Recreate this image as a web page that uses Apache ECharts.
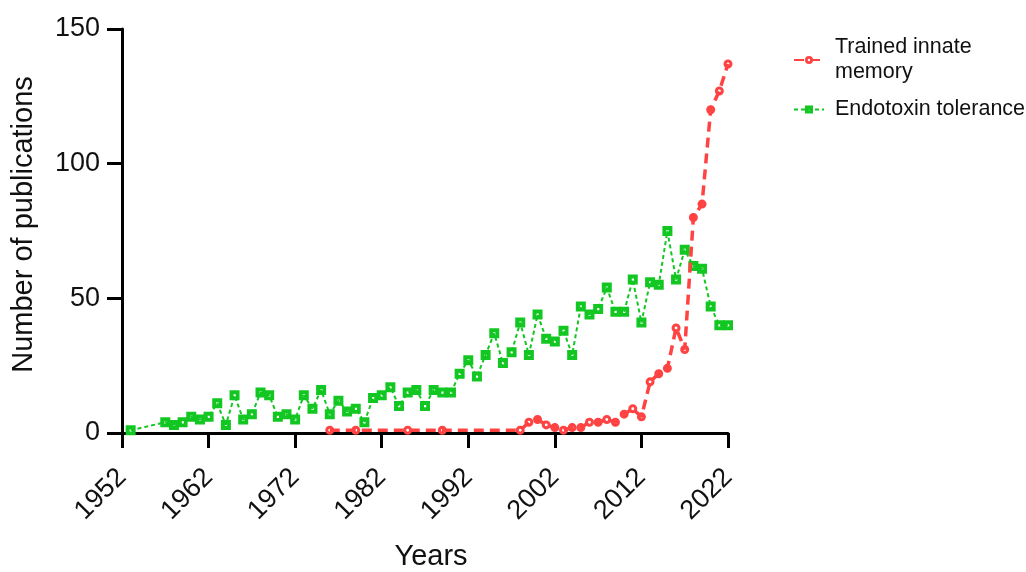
<!DOCTYPE html>
<html>
<head>
<meta charset="utf-8">
<script src="https://cdn.jsdelivr.net/npm/echarts@6/dist/echarts.min.js"></script>
<style>
  html, body { margin: 0; padding: 0; background: #fff; }
  #chart { width: 1026px; height: 572px; }
</style>
</head>
<body>
<div id="chart"></div>
<script>
// data
const tolYears = [1953,
  1957, 1958, 1959, 1960, 1961, 1962, 1963, 1964, 1965, 1966, 1967, 1968, 1969, 1970,
  1971, 1972, 1973, 1974, 1975, 1976, 1977, 1978, 1979, 1980, 1981, 1982, 1983, 1984,
  1985, 1986, 1987, 1988, 1989, 1990, 1991, 1992, 1993, 1994, 1995, 1996, 1997, 1998,
  1999, 2000, 2001, 2002, 2003, 2004, 2005, 2006, 2007, 2008, 2009, 2010, 2011, 2012,
  2013, 2014, 2015, 2016, 2017, 2018, 2019, 2020, 2021, 2022];
const tolCounts = [1,
  4, 3, 4, 6, 5, 6, 11, 3, 14, 5, 7, 15, 14, 6,
  7, 5, 14, 9, 16, 7, 12, 8, 9, 4, 13, 14, 17, 10,
  15, 16, 10, 16, 15, 15, 22, 27, 21, 29, 37, 26, 30, 41,
  29, 44, 35, 34, 38, 29, 47, 44, 46, 54, 45, 45, 57, 41,
  56, 55, 75, 57, 68, 62, 61, 47, 40, 40];

const timYears = [1976, 1979, 1985, 1989, 1998,
  1999, 2000, 2001, 2002, 2003, 2004, 2005, 2006, 2007, 2008, 2009, 2010,
  2011, 2012, 2013, 2014, 2015, 2016, 2017, 2018, 2019, 2020, 2021, 2022];
const timCounts = [1, 1, 1, 1, 1,
  4, 5, 3, 2, 1, 2, 2, 4, 4, 5, 4, 7,
  9, 6, 19, 22, 24, 39, 31, 80, 85, 120, 127, 137];

const seriesNames = ['Trained innate memory', 'Endotoxin tolerance'];
const legendLabels = { 'Trained innate memory': 'Trained innate\nmemory', 'Endotoxin tolerance': 'Endotoxin tolerance' };

const RED = '#ff4242';
const GREEN = '#12c722';
const FONT = '"Liberation Sans", Arial, sans-serif';

// filled markers with a small white hole in the middle (Prism style)
const RING = 'path://M5,0A5,5 0 1,1 5,10A5,5 0 1,1 5,0Z M5,3.4A1.6,1.6 0 1,0 5,6.6A1.6,1.6 0 1,0 5,3.4Z';
const HOLLOW_SQ = 'path://M0,0H10V10H0Z M4,4V6.2H6.2V4Z';

const zip = (xs, ys) => xs.map((x, i) => [x, ys[i]]);

const chart = echarts.init(document.getElementById('chart'), null, { renderer: 'canvas' });

const axisCommon = {
  axisLine: { show: true, lineStyle: { color: '#000', width: 3 } },
  axisTick: { show: true, inside: false, length: 15, lineStyle: { color: '#000', width: 3 } },
  splitLine: { show: false },
};

chart.setOption({
  backgroundColor: '#fff',
  animation: false,
  grid: { left: 122, top: 29, width: 606, height: 404, containLabel: false, outerBoundsMode: 'none' },
  legend: {
    left: 788,
    top: 30,
    orient: 'vertical',
    itemWidth: 30,
    itemHeight: 10,
    itemGap: 12,
    data: seriesNames,
    formatter: (name) => legendLabels[name],
    textStyle: { color: '#111', fontSize: 21.5, lineHeight: 25, fontFamily: FONT, padding: [0, 0, 0, 6] },
  },
  xAxis: {
    ...axisCommon,
    type: 'value',
    min: 1952,
    max: 2022,
    interval: 10,
    name: 'Years',
    nameLocation: 'middle',
    nameGap: 109,
    nameTextStyle: { color: '#111', fontSize: 29, fontFamily: FONT, padding: [0, 0, 0, 12] },
    axisLabel: {
      color: '#111', fontSize: 27, fontFamily: FONT, rotate: 45, margin: 40,
      formatter: (v) => String(v),
    },
  },
  yAxis: {
    ...axisCommon,
    type: 'value',
    min: 0,
    max: 150,
    interval: 50,
    name: 'Number of publications',
    nameLocation: 'middle',
    nameGap: 84,
    nameTextStyle: { color: '#111', fontSize: 29, fontFamily: FONT, padding: [0, 0, 0, 13] },
    axisLabel: { color: '#111', fontSize: 27, fontFamily: FONT, margin: 22 },
  },
  series: [
    {
      name: seriesNames[0],
      type: 'line',
      data: zip(timYears, timCounts),
      symbol: RING,
      symbolSize: 9,
      z: 3,
      itemStyle: { color: RED },
      lineStyle: { color: RED, width: 3.5, type: [10, 6] },
    },
    {
      name: seriesNames[1],
      type: 'line',
      data: zip(tolYears, tolCounts),
      symbol: HOLLOW_SQ,
      symbolSize: 10,
      z: 2,
      itemStyle: { color: GREEN },
      lineStyle: { color: GREEN, width: 2, type: [4, 3] },
    },
  ],
});
</script>
</body>
</html>
